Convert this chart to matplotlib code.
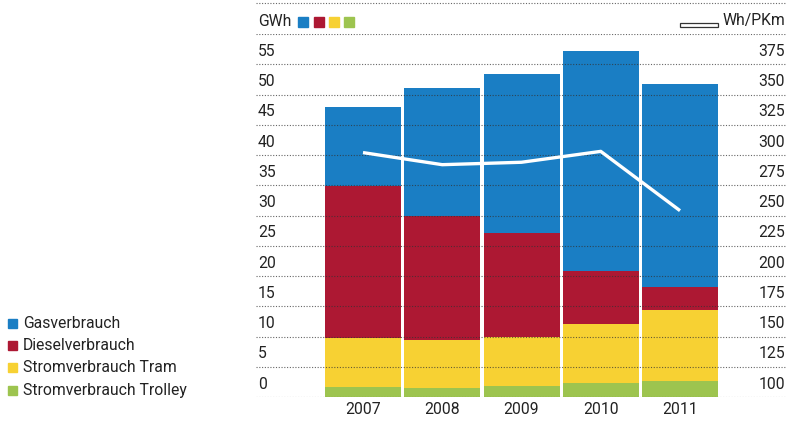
import matplotlib
matplotlib.use("Agg")
import matplotlib.pyplot as plt
from matplotlib.patches import Rectangle
import matplotlib.transforms as mtransforms

years = ["2007", "2008", "2009", "2010", "2011"]
trolley = [1.65, 1.5, 1.8, 2.3, 2.7]
tram = [8.15, 7.9, 8.15, 9.8, 11.7]
diesel = [25.0, 20.6, 17.1, 8.7, 3.7]
gas = [13.1, 21.1, 26.3, 36.4, 33.6]
wh_pkm = [302, 292, 294, 303, 254]

left_ticks = [0, 5, 10, 15, 20, 25, 30, 35, 40, 45, 50, 55]
right_ticks = [100, 125, 150, 175, 200, 225, 250, 275, 300, 325, 350, 375]

series_names = ["Gasverbrauch", "Dieselverbrauch", "Stromverbrauch Tram", "Stromverbrauch Trolley"]
colors = {"gas": "#1a7ec4", "diesel": "#ad1833", "tram": "#f7d133", "trolley": "#9dc44f"}

FONT = ["Roboto", "DejaVu Sans"]
plt.rcParams["font.family"] = FONT
FS = 11.3
TXT = "#222222"

W, H = 787, 421
fig = plt.figure(figsize=(W / 100, H / 100), dpi=100)

def fx(px):
    return px / W

def fy(py):
    return 1 - py / H

ax_l, ax_r, ax_t, ax_b = 256, 787, 34, 397
ax = fig.add_axes([fx(ax_l), fy(ax_b), fx(ax_r - ax_l), (ax_b - ax_t) / H])
ax.set_ylim(0, 60)
pitch = 79.25
c0 = 363
ax.set_xlim((ax_l - c0) / pitch, (ax_r - c0) / pitch)
for s in ax.spines.values():
    s.set_visible(False)
ax.set_xticks([])
ax.set_yticks([])

grid_kw = dict(color="#333333", alpha=0.75, lw=0.8, ls=(0, (1, 1.5)), zorder=3)
for t in left_ticks + [60]:
    ax.axhline(t, **grid_kw)

x = list(range(len(years)))
bw = 76 / pitch
bottom = [0] * len(years)
for vals, key in [(trolley, "trolley"), (tram, "tram"), (diesel, "diesel"), (gas, "gas")]:
    ax.bar(x, vals, bottom=bottom, width=bw, color=colors[key], zorder=2, linewidth=0)
    bottom = [b + v for b, v in zip(bottom, vals)]

ax2 = ax.twinx()
ax2.set_ylim(100, 400)
for s in ax2.spines.values():
    s.set_visible(False)
ax2.set_yticks([])
ax2.plot(x, wh_pkm, color="white", lw=2.4, zorder=5, solid_capstyle="butt")

trL = mtransforms.blended_transform_factory(fig.transFigure, ax.transData)
for t in left_ticks:
    ax.text(fx(258), t + 0.9, str(t), transform=trL, ha="left", va="bottom",
            fontsize=FS, color=TXT)
trR = mtransforms.blended_transform_factory(fig.transFigure, ax2.transData)
for t in right_ticks:
    ax2.text(fx(785), t + 4.5, str(t), transform=trR, ha="right", va="bottom",
             fontsize=FS, color=TXT)

trX = mtransforms.blended_transform_factory(ax.transData, fig.transFigure)
for i, y in enumerate(years):
    ax.text(i, fy(409), y, transform=trX, ha="center", va="center",
            fontsize=FS, color=TXT)

# top header
fig.add_artist(plt.Line2D([fx(256), fx(787)], [fy(3), fy(3)], color="#333333", alpha=0.75,
                          lw=0.8, ls=(0, (1, 1.5))))
fig.text(fx(258), fy(21), "GWh", ha="left", va="center", fontsize=FS, color=TXT)
for px, key in zip([298, 314, 329, 344], ["gas", "diesel", "tram", "trolley"]):
    fig.add_artist(Rectangle((fx(px), fy(27)), fx(10), 10 / H, color=colors[key],
                             transform=fig.transFigure))
fig.text(fx(785), fy(21), "Wh/PKm", ha="right", va="center", fontsize=FS, color=TXT)
fig.add_artist(Rectangle((fx(680), fy(27)), fx(38), 4 / H, facecolor="white",
                         edgecolor="#333333", lw=0.9, transform=fig.transFigure))

# legend
for py, name, key in zip([323, 345, 367, 390], series_names, ["gas", "diesel", "tram", "trolley"]):
    fig.add_artist(Rectangle((fx(8), fy(py + 4.5)), fx(9), 9 / H, color=colors[key],
                             transform=fig.transFigure))
    fig.text(fx(23), fy(py), name, ha="left", va="center", fontsize=FS, color=TXT)

fig.savefig("out.png", dpi=100)
